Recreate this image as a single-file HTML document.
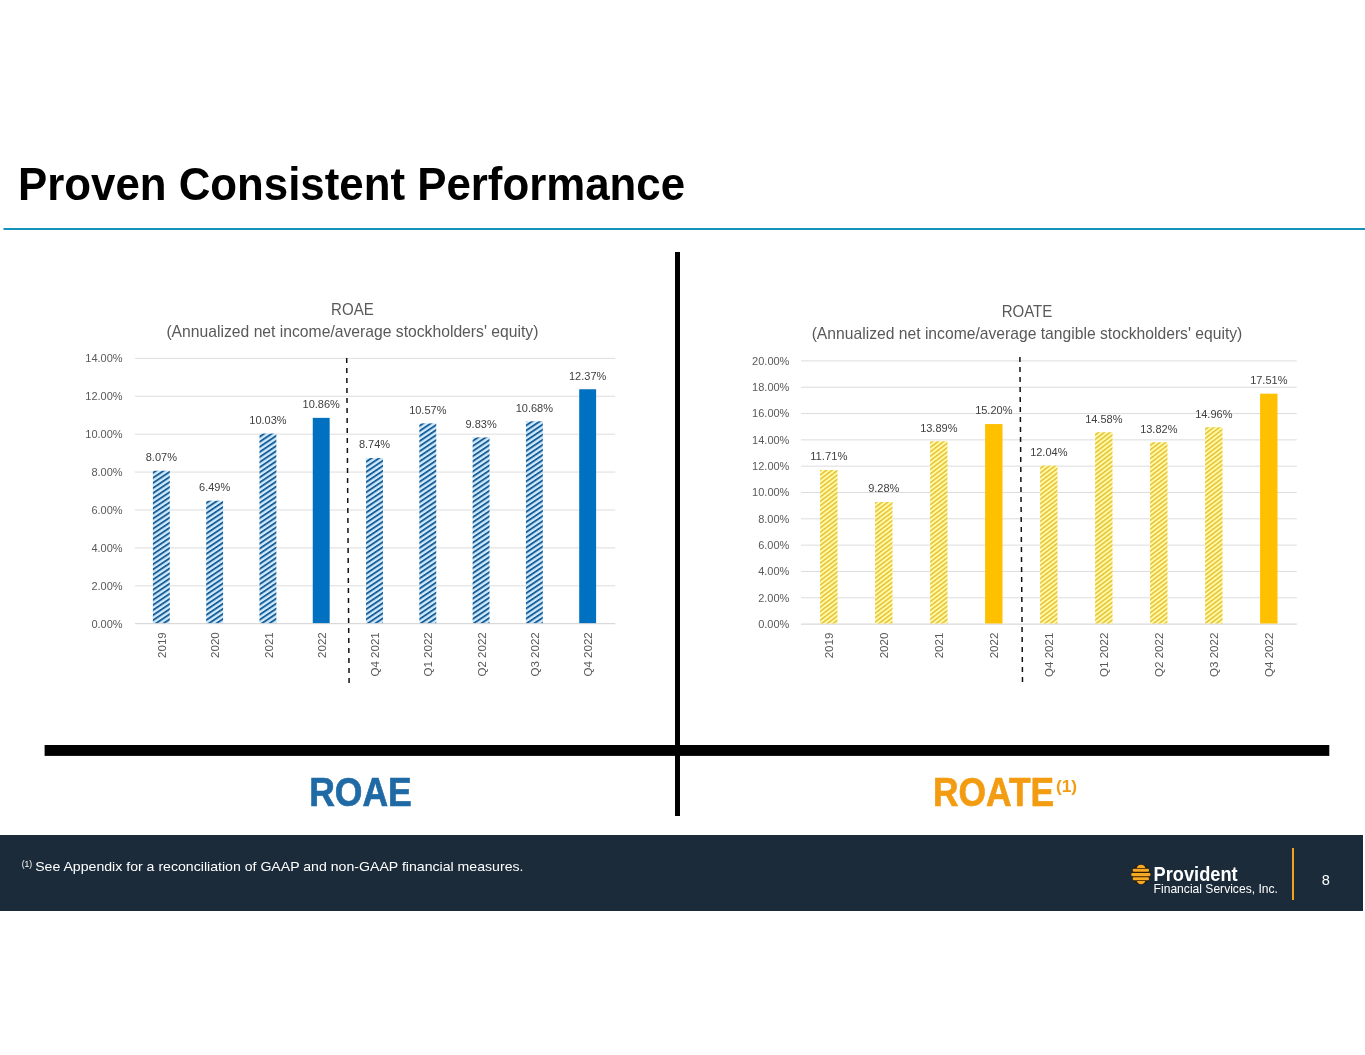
<!DOCTYPE html>
<html lang="en"><head><meta charset="utf-8"><title>Proven Consistent Performance</title>
<style>
html,body{margin:0;padding:0;background:#fff;}
body{width:1365px;height:1055px;overflow:hidden;position:relative;font-family:"Liberation Sans", Arial, sans-serif;}
svg{position:absolute;left:0;top:0;display:block;}
svg text{font-family:"Liberation Sans", Arial, sans-serif;}
</style></head><body>
<svg width="1365" height="1055" viewBox="0 0 1365 1055">
<defs>
<pattern id="hb" width="10" height="4.22" patternUnits="userSpaceOnUse" patternTransform="rotate(-33.9)">
<rect width="10" height="4.22" fill="#d0ebff"/>
<rect width="10" height="1.9" fill="#1a5e96"/>
</pattern>
<pattern id="hy" width="10" height="3.49" patternUnits="userSpaceOnUse" patternTransform="rotate(-37.6)">
<rect width="10" height="3.49" fill="#fffca8"/>
<rect width="10" height="1.45" fill="#e6bc30"/>
</pattern>
</defs>
<!-- title -->
<text x="18" y="200" font-size="46.5" font-weight="bold" fill="#000" textLength="667" lengthAdjust="spacingAndGlyphs">Proven Consistent Performance</text>
<rect x="3.5" y="228" width="1361.5" height="2" fill="#1492ba"/>
<!-- dividers -->
<rect x="675" y="252" width="5" height="564" fill="#000"/>
<rect x="44.6" y="745" width="1284.7" height="10.9" fill="#000"/>
<line x1="134.9" x2="615.3" y1="623.70" y2="623.70" stroke="#d9d9d9" stroke-width="1.25"/>
<text x="122.6" y="627.60" font-size="11" fill="#595959" text-anchor="end" font-weight="normal" textLength="31.2" lengthAdjust="spacingAndGlyphs">0.00%</text>
<line x1="134.9" x2="615.3" y1="585.79" y2="585.79" stroke="#d9d9d9" stroke-width="0.9"/>
<text x="122.6" y="589.69" font-size="11" fill="#595959" text-anchor="end" font-weight="normal" textLength="31.2" lengthAdjust="spacingAndGlyphs">2.00%</text>
<line x1="134.9" x2="615.3" y1="547.89" y2="547.89" stroke="#d9d9d9" stroke-width="0.9"/>
<text x="122.6" y="551.79" font-size="11" fill="#595959" text-anchor="end" font-weight="normal" textLength="31.2" lengthAdjust="spacingAndGlyphs">4.00%</text>
<line x1="134.9" x2="615.3" y1="509.98" y2="509.98" stroke="#d9d9d9" stroke-width="0.9"/>
<text x="122.6" y="513.88" font-size="11" fill="#595959" text-anchor="end" font-weight="normal" textLength="31.2" lengthAdjust="spacingAndGlyphs">6.00%</text>
<line x1="134.9" x2="615.3" y1="472.07" y2="472.07" stroke="#d9d9d9" stroke-width="0.9"/>
<text x="122.6" y="475.97" font-size="11" fill="#595959" text-anchor="end" font-weight="normal" textLength="31.2" lengthAdjust="spacingAndGlyphs">8.00%</text>
<line x1="134.9" x2="615.3" y1="434.16" y2="434.16" stroke="#d9d9d9" stroke-width="0.9"/>
<text x="122.6" y="438.06" font-size="11" fill="#595959" text-anchor="end" font-weight="normal" textLength="37.3" lengthAdjust="spacingAndGlyphs">10.00%</text>
<line x1="134.9" x2="615.3" y1="396.26" y2="396.26" stroke="#d9d9d9" stroke-width="0.9"/>
<text x="122.6" y="400.16" font-size="11" fill="#595959" text-anchor="end" font-weight="normal" textLength="37.3" lengthAdjust="spacingAndGlyphs">12.00%</text>
<line x1="134.9" x2="615.3" y1="358.35" y2="358.35" stroke="#d9d9d9" stroke-width="0.9"/>
<text x="122.6" y="362.25" font-size="11" fill="#595959" text-anchor="end" font-weight="normal" textLength="37.3" lengthAdjust="spacingAndGlyphs">14.00%</text>
<rect x="152.89" y="470.74" width="16.9" height="152.36" fill="url(#hb)"/>
<text x="161.34" y="461.04" font-size="11" fill="#404040" text-anchor="middle" font-weight="normal" textLength="31.2" lengthAdjust="spacingAndGlyphs">8.07%</text>
<text transform="translate(165.94,632.30) rotate(-90)" font-size="11.6" fill="#595959" text-anchor="end" textLength="25.6" lengthAdjust="spacingAndGlyphs">2019</text>
<rect x="206.18" y="500.69" width="16.9" height="122.41" fill="url(#hb)"/>
<text x="214.63" y="490.99" font-size="11" fill="#404040" text-anchor="middle" font-weight="normal" textLength="31.2" lengthAdjust="spacingAndGlyphs">6.49%</text>
<text transform="translate(219.23,632.30) rotate(-90)" font-size="11.6" fill="#595959" text-anchor="end" textLength="25.6" lengthAdjust="spacingAndGlyphs">2020</text>
<rect x="259.47" y="433.60" width="16.9" height="189.50" fill="url(#hb)"/>
<text x="267.92" y="423.90" font-size="11" fill="#404040" text-anchor="middle" font-weight="normal" textLength="37.3" lengthAdjust="spacingAndGlyphs">10.03%</text>
<text transform="translate(272.52,632.30) rotate(-90)" font-size="11.6" fill="#595959" text-anchor="end" textLength="25.6" lengthAdjust="spacingAndGlyphs">2021</text>
<rect x="312.76" y="417.86" width="16.9" height="205.24" fill="#0070C0"/>
<text x="321.21" y="408.16" font-size="11" fill="#404040" text-anchor="middle" font-weight="normal" textLength="37.3" lengthAdjust="spacingAndGlyphs">10.86%</text>
<text transform="translate(325.81,632.30) rotate(-90)" font-size="11.6" fill="#595959" text-anchor="end" textLength="25.6" lengthAdjust="spacingAndGlyphs">2022</text>
<rect x="366.05" y="458.05" width="16.9" height="165.05" fill="url(#hb)"/>
<text x="374.50" y="448.35" font-size="11" fill="#404040" text-anchor="middle" font-weight="normal" textLength="31.2" lengthAdjust="spacingAndGlyphs">8.74%</text>
<text transform="translate(379.10,632.30) rotate(-90)" font-size="11.6" fill="#595959" text-anchor="end" textLength="44.2" lengthAdjust="spacingAndGlyphs">Q4 2021</text>
<rect x="419.34" y="423.36" width="16.9" height="199.74" fill="url(#hb)"/>
<text x="427.79" y="413.66" font-size="11" fill="#404040" text-anchor="middle" font-weight="normal" textLength="37.3" lengthAdjust="spacingAndGlyphs">10.57%</text>
<text transform="translate(432.39,632.30) rotate(-90)" font-size="11.6" fill="#595959" text-anchor="end" textLength="44.2" lengthAdjust="spacingAndGlyphs">Q1 2022</text>
<rect x="472.63" y="437.39" width="16.9" height="185.71" fill="url(#hb)"/>
<text x="481.08" y="427.69" font-size="11" fill="#404040" text-anchor="middle" font-weight="normal" textLength="31.2" lengthAdjust="spacingAndGlyphs">9.83%</text>
<text transform="translate(485.68,632.30) rotate(-90)" font-size="11.6" fill="#595959" text-anchor="end" textLength="44.2" lengthAdjust="spacingAndGlyphs">Q2 2022</text>
<rect x="525.92" y="421.28" width="16.9" height="201.82" fill="url(#hb)"/>
<text x="534.37" y="411.58" font-size="11" fill="#404040" text-anchor="middle" font-weight="normal" textLength="37.3" lengthAdjust="spacingAndGlyphs">10.68%</text>
<text transform="translate(538.97,632.30) rotate(-90)" font-size="11.6" fill="#595959" text-anchor="end" textLength="44.2" lengthAdjust="spacingAndGlyphs">Q3 2022</text>
<rect x="579.21" y="389.24" width="16.9" height="233.86" fill="#0070C0"/>
<text x="587.66" y="379.54" font-size="11" fill="#404040" text-anchor="middle" font-weight="normal" textLength="37.3" lengthAdjust="spacingAndGlyphs">12.37%</text>
<text transform="translate(592.26,632.30) rotate(-90)" font-size="11.6" fill="#595959" text-anchor="end" textLength="44.2" lengthAdjust="spacingAndGlyphs">Q4 2022</text>
<line x1="346.7" y1="358" x2="349.1" y2="683.3" stroke="#111" stroke-width="1.5" stroke-dasharray="5.1 4.9"/>
<text x="352.4" y="314.6" font-size="16.2" fill="#595959" text-anchor="middle" font-weight="normal" textLength="42.7" lengthAdjust="spacingAndGlyphs">ROAE</text>
<text x="352.4" y="336.6" font-size="16.2" fill="#595959" text-anchor="middle" font-weight="normal" textLength="372" lengthAdjust="spacingAndGlyphs">(Annualized net income/average stockholders' equity)</text>
<line x1="801" x2="1296.8" y1="624.10" y2="624.10" stroke="#d9d9d9" stroke-width="1.25"/>
<text x="789.4" y="628.00" font-size="11" fill="#595959" text-anchor="end" font-weight="normal" textLength="31.2" lengthAdjust="spacingAndGlyphs">0.00%</text>
<line x1="801" x2="1296.8" y1="597.78" y2="597.78" stroke="#d9d9d9" stroke-width="0.9"/>
<text x="789.4" y="601.68" font-size="11" fill="#595959" text-anchor="end" font-weight="normal" textLength="31.2" lengthAdjust="spacingAndGlyphs">2.00%</text>
<line x1="801" x2="1296.8" y1="571.46" y2="571.46" stroke="#d9d9d9" stroke-width="0.9"/>
<text x="789.4" y="575.36" font-size="11" fill="#595959" text-anchor="end" font-weight="normal" textLength="31.2" lengthAdjust="spacingAndGlyphs">4.00%</text>
<line x1="801" x2="1296.8" y1="545.14" y2="545.14" stroke="#d9d9d9" stroke-width="0.9"/>
<text x="789.4" y="549.04" font-size="11" fill="#595959" text-anchor="end" font-weight="normal" textLength="31.2" lengthAdjust="spacingAndGlyphs">6.00%</text>
<line x1="801" x2="1296.8" y1="518.82" y2="518.82" stroke="#d9d9d9" stroke-width="0.9"/>
<text x="789.4" y="522.72" font-size="11" fill="#595959" text-anchor="end" font-weight="normal" textLength="31.2" lengthAdjust="spacingAndGlyphs">8.00%</text>
<line x1="801" x2="1296.8" y1="492.50" y2="492.50" stroke="#d9d9d9" stroke-width="0.9"/>
<text x="789.4" y="496.40" font-size="11" fill="#595959" text-anchor="end" font-weight="normal" textLength="37.3" lengthAdjust="spacingAndGlyphs">10.00%</text>
<line x1="801" x2="1296.8" y1="466.18" y2="466.18" stroke="#d9d9d9" stroke-width="0.9"/>
<text x="789.4" y="470.08" font-size="11" fill="#595959" text-anchor="end" font-weight="normal" textLength="37.3" lengthAdjust="spacingAndGlyphs">12.00%</text>
<line x1="801" x2="1296.8" y1="439.86" y2="439.86" stroke="#d9d9d9" stroke-width="0.9"/>
<text x="789.4" y="443.76" font-size="11" fill="#595959" text-anchor="end" font-weight="normal" textLength="37.3" lengthAdjust="spacingAndGlyphs">14.00%</text>
<line x1="801" x2="1296.8" y1="413.54" y2="413.54" stroke="#d9d9d9" stroke-width="0.9"/>
<text x="789.4" y="417.44" font-size="11" fill="#595959" text-anchor="end" font-weight="normal" textLength="37.3" lengthAdjust="spacingAndGlyphs">16.00%</text>
<line x1="801" x2="1296.8" y1="387.22" y2="387.22" stroke="#d9d9d9" stroke-width="0.9"/>
<text x="789.4" y="391.12" font-size="11" fill="#595959" text-anchor="end" font-weight="normal" textLength="37.3" lengthAdjust="spacingAndGlyphs">18.00%</text>
<line x1="801" x2="1296.8" y1="360.90" y2="360.90" stroke="#d9d9d9" stroke-width="0.9"/>
<text x="789.4" y="364.80" font-size="11" fill="#595959" text-anchor="end" font-weight="normal" textLength="37.3" lengthAdjust="spacingAndGlyphs">20.00%</text>
<rect x="820.10" y="470.00" width="17.4" height="153.50" fill="url(#hy)"/>
<text x="828.80" y="460.30" font-size="11" fill="#404040" text-anchor="middle" font-weight="normal" textLength="37.3" lengthAdjust="spacingAndGlyphs">11.71%</text>
<text transform="translate(833.40,632.70) rotate(-90)" font-size="11.6" fill="#595959" text-anchor="end" textLength="25.6" lengthAdjust="spacingAndGlyphs">2019</text>
<rect x="875.10" y="501.98" width="17.4" height="121.52" fill="url(#hy)"/>
<text x="883.80" y="492.28" font-size="11" fill="#404040" text-anchor="middle" font-weight="normal" textLength="31.2" lengthAdjust="spacingAndGlyphs">9.28%</text>
<text transform="translate(888.40,632.70) rotate(-90)" font-size="11.6" fill="#595959" text-anchor="end" textLength="25.6" lengthAdjust="spacingAndGlyphs">2020</text>
<rect x="930.10" y="441.31" width="17.4" height="182.19" fill="url(#hy)"/>
<text x="938.80" y="431.61" font-size="11" fill="#404040" text-anchor="middle" font-weight="normal" textLength="37.3" lengthAdjust="spacingAndGlyphs">13.89%</text>
<text transform="translate(943.40,632.70) rotate(-90)" font-size="11.6" fill="#595959" text-anchor="end" textLength="25.6" lengthAdjust="spacingAndGlyphs">2021</text>
<rect x="985.10" y="424.07" width="17.4" height="199.43" fill="#FFC000"/>
<text x="993.80" y="414.37" font-size="11" fill="#404040" text-anchor="middle" font-weight="normal" textLength="37.3" lengthAdjust="spacingAndGlyphs">15.20%</text>
<text transform="translate(998.40,632.70) rotate(-90)" font-size="11.6" fill="#595959" text-anchor="end" textLength="25.6" lengthAdjust="spacingAndGlyphs">2022</text>
<rect x="1040.10" y="465.65" width="17.4" height="157.85" fill="url(#hy)"/>
<text x="1048.80" y="455.95" font-size="11" fill="#404040" text-anchor="middle" font-weight="normal" textLength="37.3" lengthAdjust="spacingAndGlyphs">12.04%</text>
<text transform="translate(1053.40,632.70) rotate(-90)" font-size="11.6" fill="#595959" text-anchor="end" textLength="44.2" lengthAdjust="spacingAndGlyphs">Q4 2021</text>
<rect x="1095.10" y="432.23" width="17.4" height="191.27" fill="url(#hy)"/>
<text x="1103.80" y="422.53" font-size="11" fill="#404040" text-anchor="middle" font-weight="normal" textLength="37.3" lengthAdjust="spacingAndGlyphs">14.58%</text>
<text transform="translate(1108.40,632.70) rotate(-90)" font-size="11.6" fill="#595959" text-anchor="end" textLength="44.2" lengthAdjust="spacingAndGlyphs">Q1 2022</text>
<rect x="1150.10" y="442.23" width="17.4" height="181.27" fill="url(#hy)"/>
<text x="1158.80" y="432.53" font-size="11" fill="#404040" text-anchor="middle" font-weight="normal" textLength="37.3" lengthAdjust="spacingAndGlyphs">13.82%</text>
<text transform="translate(1163.40,632.70) rotate(-90)" font-size="11.6" fill="#595959" text-anchor="end" textLength="44.2" lengthAdjust="spacingAndGlyphs">Q2 2022</text>
<rect x="1205.10" y="427.23" width="17.4" height="196.27" fill="url(#hy)"/>
<text x="1213.80" y="417.53" font-size="11" fill="#404040" text-anchor="middle" font-weight="normal" textLength="37.3" lengthAdjust="spacingAndGlyphs">14.96%</text>
<text transform="translate(1218.40,632.70) rotate(-90)" font-size="11.6" fill="#595959" text-anchor="end" textLength="44.2" lengthAdjust="spacingAndGlyphs">Q3 2022</text>
<rect x="1260.10" y="393.67" width="17.4" height="229.83" fill="#FFC000"/>
<text x="1268.80" y="383.97" font-size="11" fill="#404040" text-anchor="middle" font-weight="normal" textLength="37.3" lengthAdjust="spacingAndGlyphs">17.51%</text>
<text transform="translate(1273.40,632.70) rotate(-90)" font-size="11.6" fill="#595959" text-anchor="end" textLength="44.2" lengthAdjust="spacingAndGlyphs">Q4 2022</text>
<line x1="1019.9" y1="357" x2="1022.5" y2="682.3" stroke="#111" stroke-width="1.5" stroke-dasharray="5.1 4.9"/>
<text x="1027" y="317" font-size="16.2" fill="#595959" text-anchor="middle" font-weight="normal" textLength="50.6" lengthAdjust="spacingAndGlyphs">ROATE</text>
<text x="1027" y="338.9" font-size="16.2" fill="#595959" text-anchor="middle" font-weight="normal" textLength="430.7" lengthAdjust="spacingAndGlyphs">(Annualized net income/average tangible stockholders' equity)</text>
<!-- big labels -->
<text x="309.2" y="806" font-size="40.4" font-weight="bold" fill="#1f6aa5" stroke="#1f6aa5" stroke-width="0.7" textLength="102.6" lengthAdjust="spacingAndGlyphs">ROAE</text>
<text x="933" y="806" font-size="40.4" font-weight="bold" fill="#f39c12" stroke="#f39c12" stroke-width="0.7" textLength="121.2" lengthAdjust="spacingAndGlyphs">ROATE</text>
<text x="1055.9" y="791.9" font-size="16.8" font-weight="bold" fill="#f39c12" textLength="21.2" lengthAdjust="spacingAndGlyphs">(1)</text>
<!-- footer -->
<rect x="0" y="835" width="1363" height="76" fill="#1b2b3a"/>
<text x="21.7" y="866.6" font-size="8.6" fill="#fff" textLength="10.5" lengthAdjust="spacingAndGlyphs">(1)</text>
<text x="35.2" y="871.3" font-size="13.6" fill="#fff" textLength="488.3" lengthAdjust="spacingAndGlyphs">See Appendix for a reconciliation of GAAP and non-GAAP financial measures.</text>
<!-- logo -->
<g>
<ellipse cx="1140.9" cy="874.5" rx="9.3" ry="9.9" fill="#2b1c06"/>
<g fill="#f6a823">
<path d="M1136.8,867.9 Q1137.6,864.8 1141,864.7 Q1144.5,864.8 1145.3,867.9 Z"/>
<rect x="1132.7" y="868.7" width="16.3" height="3.1" rx="1.3"/>
<rect x="1131.2" y="873" width="19.3" height="3.2" rx="1.4"/>
<rect x="1132.7" y="877.2" width="16.3" height="3.1" rx="1.3"/>
<path d="M1136.8,881.1 Q1137.6,884.2 1141,884.3 Q1144.5,884.2 1145.3,881.1 Z"/>
</g>
<text x="1153.6" y="881.2" font-size="20" font-weight="bold" fill="#fff" textLength="84" lengthAdjust="spacingAndGlyphs">Provident</text>
<text x="1153.6" y="893.2" font-size="12.2" fill="#fff" textLength="124.3" lengthAdjust="spacingAndGlyphs">Financial Services, Inc.</text>
</g>
<rect x="1292" y="848" width="2" height="52" fill="#f5a21b"/>
<text x="1325.8" y="885.2" font-size="14.6" fill="#fff" text-anchor="middle">8</text>
</svg>
</body></html>
